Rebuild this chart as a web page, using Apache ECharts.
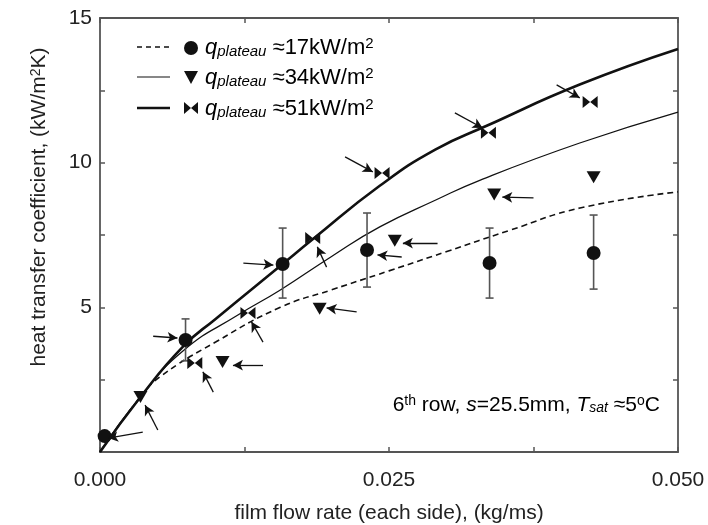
<!DOCTYPE html>
<html><head><meta charset="utf-8">
<script src="https://cdn.jsdelivr.net/npm/echarts@6/dist/echarts.min.js"></script>
<style>html,body{margin:0;padding:0;background:#fff}#c{width:708px;height:525px}</style>
</head><body><div id="c"></div>
<script>
const FONT = '"Liberation Sans", Arial, sans-serif';
// x tick labels / y tick labels
const xTickLabels = ['0.000', '0.025', '0.050'];
const yTickLabels = ['5', '10', '15'];
// model curves [flow rate, h]
const curve17 = [[0,0],[0.0035,1.9],[0.0052,2.6],[0.0100,3.8],[0.0156,5.0],[0.0200,5.6],[0.0250,6.26],[0.0300,6.93],[0.0355,7.67],[0.0415,8.43],[0.0500,8.99]];
const curve34 = [[0,0],[0.0035,1.9],[0.0072,3.5],[0.0120,4.75],[0.0156,5.6],[0.0200,6.75],[0.0242,7.78],[0.0290,8.7],[0.0329,9.4],[0.0415,10.68],[0.0500,11.75]];
const curve51 = [[0,0],[0.0035,1.9],[0.0072,3.65],[0.0100,4.6],[0.0158,6.5],[0.0184,7.35],[0.0242,9.2],[0.0290,10.45],[0.0336,11.3],[0.0415,12.7],[0.0500,13.93]];
// measured points
const pts17 = [[0.0004,0.55],[0.0074,3.87],[0.0158,6.5],[0.0231,6.98],[0.0337,6.53],[0.0427,6.88]];
const err17 = [[0.0074,3.15,4.6],[0.0158,5.32,7.74],[0.0231,5.7,8.26],[0.0337,5.32,7.74],[0.0427,5.63,8.19]];
const pts34 = [[0.0035,1.9],[0.0106,3.11],[0.0190,4.95],[0.0255,7.3],[0.0341,8.9],[0.0427,9.5]];
const pts51 = [[0.0082,3.08],[0.0128,4.8],[0.0184,7.4],[0.0244,9.64],[0.0336,11.03],[0.0424,12.1]];
// annotation arrows: [tailX, tailY, headX, headY]
const arrows = [
  [0.0037,0.69,0.0007,0.48],
  [0.0050,0.76,0.0039,1.62],
  [0.0046,4.0,0.0067,3.94],
  [0.0098,2.07,0.0089,2.77],
  [0.0141,3.0,0.0115,3.0],
  [0.0141,3.8,0.0131,4.5],
  [0.0124,6.53,0.0150,6.46],
  [0.0196,6.39,0.0188,7.09],
  [0.0222,4.84,0.0196,4.98],
  [0.0261,6.74,0.0240,6.81],
  [0.0292,7.22,0.0262,7.22],
  [0.0212,10.2,0.0236,9.68],
  [0.0307,11.72,0.0331,11.2],
  [0.0395,12.69,0.0415,12.24],
  [0.0375,8.78,0.0348,8.81]
];
const legendLabels = ['17', '34', '51'];

const BLACK = '#111';
const AXC = '#555';
const BOWTIE = 'path://M0,0L10,6L0,12ZM20,0L10,6L20,12Z';
const TRI = 'path://M0,0L14,0L7,12Z';

function near(v, step) { return Math.abs(v / step - Math.round(v / step)) < 1e-6; }

const chart = echarts.init(document.getElementById('c'), null, {renderer: 'canvas'});

const axisCommon = {
  axisLine: {show: true, onZero: false, lineStyle: {color: AXC, width: 1.8}},
  axisTick: {show: true, inside: true, length: 5, lineStyle: {color: AXC, width: 1.5}},
  splitLine: {show: false}
};

const rich = {
  a: {fontFamily: FONT, fontSize: 21, color: '#222'},
  i: {fontFamily: FONT, fontSize: 21, color: '#222', fontStyle: 'italic'},
  sup: {fontFamily: FONT, fontSize: 14, color: '#222', verticalAlign: 'top'},
  sub: {fontFamily: FONT, fontSize: 14, color: '#222', fontStyle: 'italic', verticalAlign: 'bottom'}
};
const legRich = {
  q: {fontFamily: FONT, fontSize: 22, color: '#222', fontStyle: 'italic'},
  sub: {fontFamily: FONT, fontSize: 15, color: '#222', fontStyle: 'italic', verticalAlign: 'bottom', padding: [8,0,0,0]},
  t: {fontFamily: FONT, fontSize: 22, color: '#222'},
  sup: {fontFamily: FONT, fontSize: 15, color: '#222', verticalAlign: 'top'}
};

const legendRows = [47, 77, 108];
const graphic = [];
legendRows.forEach((y, i) => {
  graphic.push({type: 'line', shape: {x1: 137, y1: y, x2: 170, y2: y},
    style: {stroke: BLACK, lineWidth: i === 0 ? 1.5 : (i === 1 ? 1.2 : 2.6), lineDash: i === 0 ? [5, 4] : null}});
  graphic.push({type: 'text', style: {x: 205, y: y + 1, verticalAlign: 'middle',
    text: '{q|q}{sub|plateau}{t| ≈' + legendLabels[i] + 'kW/m}{sup|2}', rich: legRich}});
});
graphic.push({type: 'circle', shape: {cx: 191, cy: 48, r: 7}, style: {fill: BLACK}});
graphic.push({type: 'polygon', shape: {points: [[184, 71], [198, 71], [191, 84]]}, style: {fill: BLACK}});
graphic.push({type: 'polygon', shape: {points: [[184, 102], [191, 108], [184, 114]]}, style: {fill: BLACK}});
graphic.push({type: 'polygon', shape: {points: [[198, 102], [191, 108], [198, 114]]}, style: {fill: BLACK}});
graphic.push({type: 'text', style: {x: 660, y: 405, align: 'right', verticalAlign: 'middle',
  text: '{a|6}{sup|th}{a| row, }{i|s}{a|=25.5mm, }{i|T}{sub|sat}{a| ≈5}{sup|o}{a|C}', rich: rich}});

const option = {
  animation: false,
  backgroundColor: '#fff',
  grid: {left: 100, right: 30, top: 18, bottom: 73, containLabel: false, outerBoundsMode: 'none'},
  xAxis: [
    Object.assign({}, axisCommon, {
      type: 'value', min: 0, max: 0.05, interval: 0.0125, position: 'bottom',
      name: 'film flow rate (each side), (kg/ms)', nameLocation: 'middle', nameGap: 51,
      nameTextStyle: {fontFamily: FONT, fontSize: 21, color: '#222'},
      axisLabel: {show: true, margin: 18, fontFamily: FONT, fontSize: 21, color: '#222',
        formatter: v => near(v, 0.025) ? xTickLabels[Math.round(v / 0.025)] : ''}
    }),
    Object.assign({}, axisCommon, {
      type: 'value', min: 0, max: 0.05, interval: 0.0125, position: 'top',
      axisLabel: {show: false}
    })
  ],
  yAxis: [
    Object.assign({}, axisCommon, {
      type: 'value', min: 0, max: 15, interval: 2.5, position: 'left',
      name: '{a|heat transfer coefficient, (kW/m}{sup|2}{a|K)}', nameLocation: 'middle', nameGap: 50,
      nameTextStyle: {rich: rich, padding: [0, 0, 0, 56]},
      axisLabel: {show: true, margin: 8, fontFamily: FONT, fontSize: 21, color: '#222',
        formatter: v => (v > 0 && near(v, 5)) ? yTickLabels[Math.round(v / 5) - 1] : ''}
    }),
    Object.assign({}, axisCommon, {
      type: 'value', min: 0, max: 15, interval: 2.5, position: 'right',
      axisLabel: {show: false}
    })
  ],
  series: [
    {type: 'line', name: 'c17', data: curve17, showSymbol: false, smooth: 0.5,
      lineStyle: {color: BLACK, width: 1.6, type: [6, 4]}, z: 2},
    {type: 'line', name: 'c34', data: curve34, showSymbol: false, smooth: 0.5,
      lineStyle: {color: BLACK, width: 1.3}, z: 2},
    {type: 'line', name: 'c51', data: curve51, showSymbol: false, smooth: 0.5,
      lineStyle: {color: BLACK, width: 2.6}, z: 2},
    {type: 'custom', name: 'err17', data: err17, encode: {x: 0, y: [1, 2]}, z: 3,
      renderItem: (params, api) => {
        const x = api.value(0), lo = api.value(1), hi = api.value(2);
        const p1 = api.coord([x, lo]), p2 = api.coord([x, hi]);
        const w = 4;
        const st = {stroke: AXC, lineWidth: 1.6};
        return {type: 'group', children: [
          {type: 'line', shape: {x1: p1[0], y1: p1[1], x2: p2[0], y2: p2[1]}, style: st},
          {type: 'line', shape: {x1: p1[0] - w, y1: p1[1], x2: p1[0] + w, y2: p1[1]}, style: st},
          {type: 'line', shape: {x1: p2[0] - w, y1: p2[1], x2: p2[0] + w, y2: p2[1]}, style: st}
        ]};
      }},
    {type: 'scatter', name: 'p17', data: pts17, symbol: 'circle', symbolSize: 14,
      itemStyle: {color: BLACK, opacity: 1}, z: 4},
    {type: 'scatter', name: 'p34', data: pts34, symbol: TRI, symbolSize: [14, 12],
      itemStyle: {color: BLACK, opacity: 1}, z: 4},
    {type: 'scatter', name: 'p51', data: pts51, symbol: BOWTIE, symbolSize: [15, 12],
      itemStyle: {color: BLACK, opacity: 1}, z: 4},
    {type: 'line', name: 'arrows', data: [], z: 5,
      markLine: {silent: true, symbol: ['none', 'arrow'], symbolSize: [8, 10],
        label: {show: false},
        lineStyle: {color: BLACK, width: 1.3, type: 'solid'},
        data: arrows.map(a => [{coord: [a[0], a[1]]}, {coord: [a[2], a[3]]}])}}
  ],
  graphic: graphic
};
chart.setOption(option);
</script>
</body></html>
